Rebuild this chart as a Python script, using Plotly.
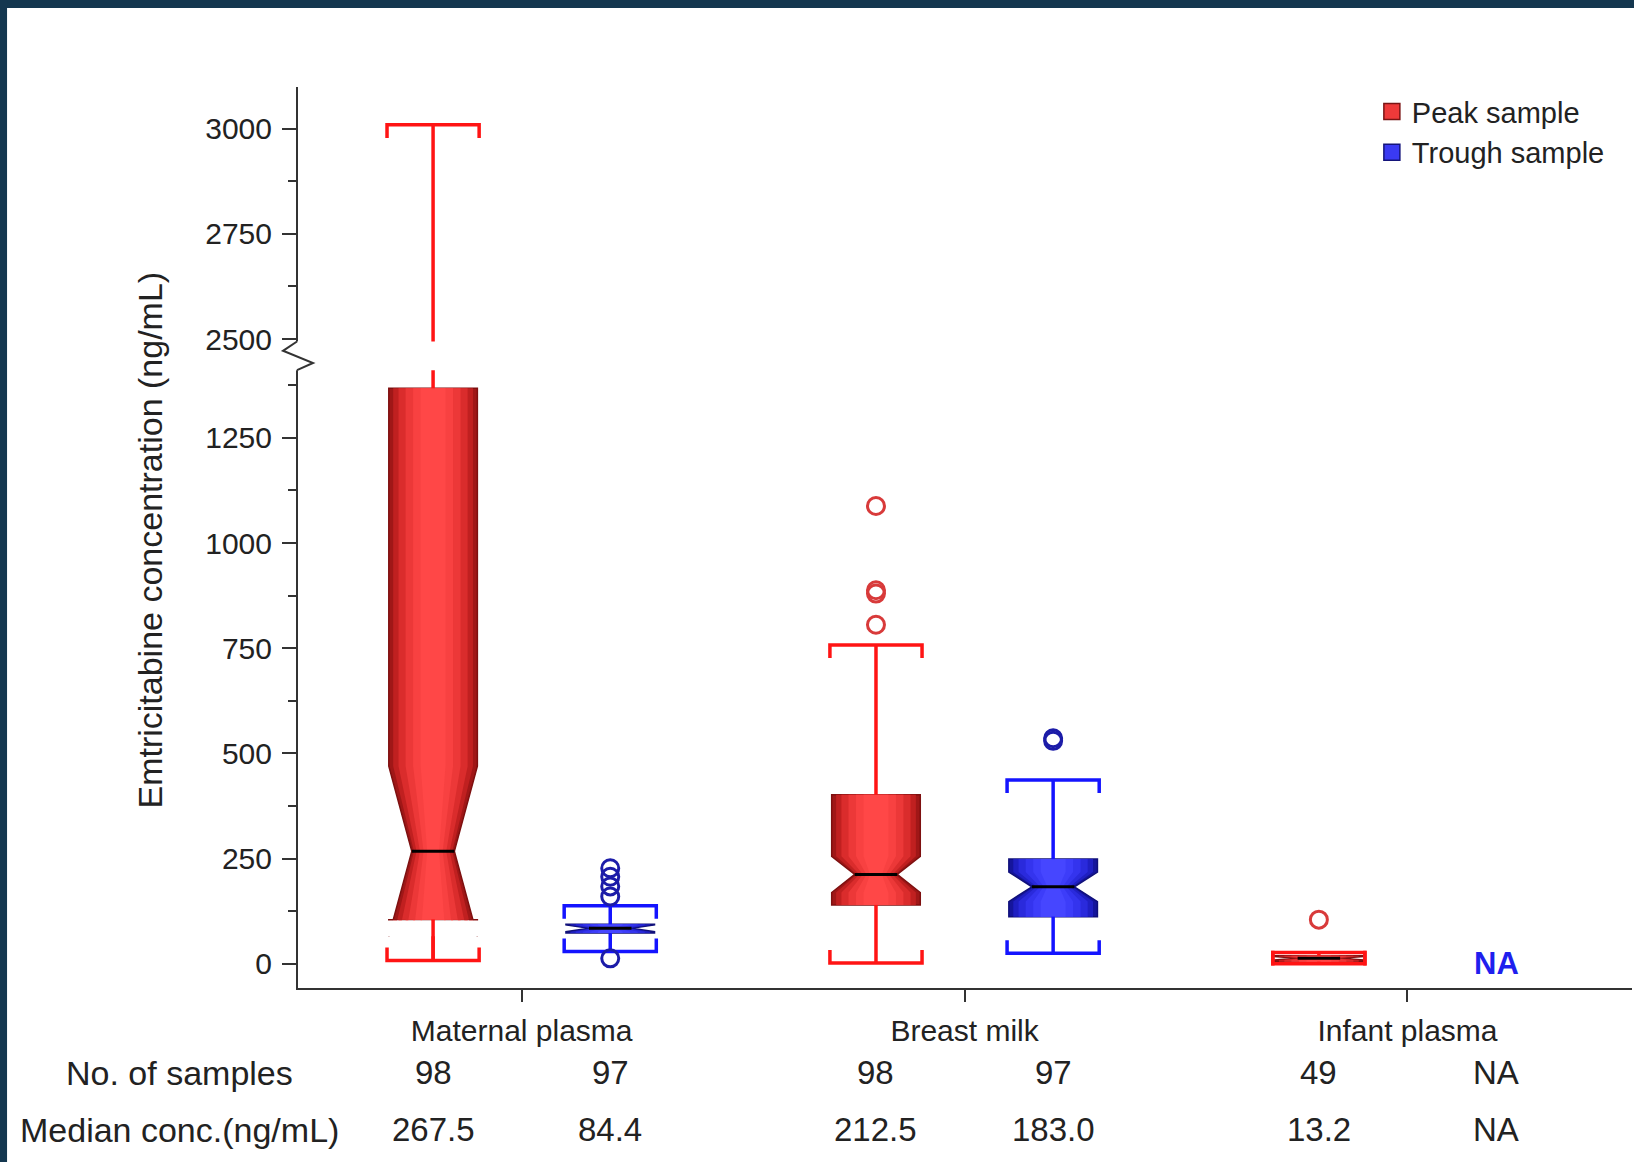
import plotly.graph_objects as go

# ---------------- data ----------------
categories = ["Maternal plasma", "Breast milk", "Infant plasma"]
cat_pos = [0, 1, 2]

# Peak sample (one box per category)
peak_lower = [8, 2, 0]
peak_q1 = [105, 140, 5]
peak_median = [267.5, 212.5, 13.2]
peak_q3 = [1368, 402, 19]
peak_upper = [3009, 758, 27]
peak_notch = [202, 43, 4]
peak_out_cat = [1, 1, 1, 1, 2]
peak_out_val = [1088, 888, 880, 806, 105]

# Trough sample (Infant plasma not available)
trough_cat = [0, 1]
trough_lower = [29, 25]
trough_q1 = [73, 112]
trough_median = [84.4, 183.0]
trough_q3 = [94, 249]
trough_upper = [138, 437]
trough_notch = [8, 35]
trough_out_cat = [0, 0, 0, 0, 0, 1, 1]
trough_out_val = [227, 207, 184, 160, 13, 536, 530]

n_peak = ["98", "98", "49"]
n_trough = ["97", "97", "NA"]
med_peak_txt = ["267.5", "212.5", "13.2"]
med_trough_txt = ["84.4", "183.0", "NA"]

ytick_major = [0, 250, 500, 750, 1000, 1250, 2500, 2750, 3000]
ytick_minor = [125, 375, 625, 875, 1125, 1375, 2625, 2875]

# ---------------- axis break ----------------
BREAK_START = 2000      # real values above this are shifted down
BREAK_OFFSET = 1015     # amount of shift for the upper segment
GAP_LO, GAP_HI = 1411, 1479   # display band of the break


def disp(v):
    return v - BREAK_OFFSET if v > BREAK_START else v


FONT = "Liberation Sans, Arial, sans-serif"
OFF = 0.2          # offset of peak/trough from category centre
BOXW = 0.2
NW = 0.26
CAPW = 0.104
CAPD = 31
WHISK_W = 3.5

RED_LAYERS = ["#a01717", "#c02020", "#da2c2c", "#ec3838", "#f84141", "#ff4747"]
BLUE_LAYERS = ["#15159c", "#1f1fc2", "#2a2adc", "#3434ee", "#3d3df9", "#4646ff"]
LAYER_W = [1.0, 0.9, 0.78, 0.62, 0.45, 0.28]

fig = go.Figure()
extra_shapes = []


def add_group(xs, lf, q1, med, q3, uf, notch, layers, outline, wcolor, ocolor,
              out_x, out_y):
    lf_d = [disp(v) for v in lf]
    uf_d = [disp(v) for v in uf]
    q3_d = [disp(v) for v in q3]
    for k, (c, f) in enumerate(zip(layers, LAYER_W)):
        fig.add_trace(go.Box(
            x=xs, q1=q1, median=med, q3=q3_d, lowerfence=lf_d, upperfence=uf_d,
            notched=True, notchspan=notch, notchwidth=NW, width=BOXW * f,
            fillcolor=c, line=dict(color=outline if k == 0 else c,
                                   width=1.5 if k == 0 else 0),
            whiskerwidth=0, boxpoints=False, showlegend=False, hoverinfo="skip"))
    # whiskers + bracket caps
    wx, wy = [], []
    for x, a, b, c_, d in zip(xs, lf_d, q1, q3_d, uf_d):
        wx += [x, x, None, x, x, None]
        wy += [b, a, None, c_, d, None]
        wx += [x - CAPW, x - CAPW, x + CAPW, x + CAPW, None]
        wy += [d - CAPD, d, d, d - CAPD, None]
        wx += [x - CAPW, x - CAPW, x + CAPW, x + CAPW, None]
        wy += [a + CAPD, a, a, a + CAPD, None]
    fig.add_trace(go.Scatter(x=wx, y=wy, mode="lines",
                             line=dict(color=wcolor, width=WHISK_W),
                             showlegend=False, hoverinfo="skip"))
    # notch reaching below the first quartile: that part is left blank
    for x, a, b, m, n in zip(xs, lf_d, q1, med, notch):
        if m - n < b:
            extra_shapes.append(dict(type="rect", xref="x", yref="y",
                                     x0=x - BOXW / 2 - 0.005, x1=x + BOXW / 2 + 0.005,
                                     y0=m - n, y1=b - 2, fillcolor="white",
                                     line=dict(width=0), layer="above"))
            extra_shapes.append(dict(type="line", xref="x", yref="y", x0=x, x1=x,
                                     y0=b, y1=a, line=dict(color=wcolor, width=WHISK_W),
                                     layer="above"))
    # median lines
    h = BOXW / 2 * (1 - 2 * NW)
    mx, my = [], []
    for x, m in zip(xs, med):
        mx += [x - h, x + h, None]
        my += [m, m, None]
    fig.add_trace(go.Scatter(x=mx, y=my, mode="lines",
                             line=dict(color="black", width=3),
                             showlegend=False, hoverinfo="skip"))
    # outliers
    fig.add_trace(go.Scatter(x=out_x, y=[disp(v) for v in out_y], mode="markers",
                             marker=dict(symbol="circle-open", size=17, color=ocolor,
                                         line=dict(width=3, color=ocolor)),
                             showlegend=False, hoverinfo="skip"))


peak_x = [p - OFF for p in cat_pos]
trough_x = [cat_pos[i] + OFF for i in trough_cat]

add_group(peak_x, peak_lower, peak_q1, peak_median, peak_q3, peak_upper, peak_notch,
          RED_LAYERS, "#7e1010", "#ff1414", "#d83a3a",
          [cat_pos[i] - OFF for i in peak_out_cat], peak_out_val)
add_group(trough_x, trough_lower, trough_q1, trough_median, trough_q3, trough_upper,
          trough_notch, BLUE_LAYERS, "#10107a", "#1414ff", "#1c1ca8",
          [cat_pos[i] + OFF for i in trough_out_cat], trough_out_val)

# legend entries
fig.add_trace(go.Scatter(x=[None], y=[None], mode="markers", name="Peak sample",
                         marker=dict(symbol="square", size=20, color="#ee3a3a",
                                     line=dict(color="#7a1414", width=1.5))))
fig.add_trace(go.Scatter(x=[None], y=[None], mode="markers", name="Trough sample",
                         marker=dict(symbol="square", size=20, color="#3a3af2",
                                     line=dict(color="#14147a", width=1.5))))

# ---------------- annotations ----------------
TXT = dict(family=FONT, size=33, color="#222")
LBL = dict(family=FONT, size=34, color="#222")
ann = []
# NA for missing infant trough
ann.append(dict(x=cat_pos[2] + OFF, y=0, xref="x", yref="y", text="<b>NA</b>",
                showarrow=False, font=dict(family=FONT, size=31, color="#1f1fee"),
                xanchor="center", yanchor="middle"))
# y title
ann.append(dict(x=-0.1107, y=0.497, xref="paper", yref="paper",
                text="Emtricitabine concentration (ng/mL)", textangle=-90,
                showarrow=False, xanchor="center", yanchor="middle",
                font=dict(family=FONT, size=34, color="#222")))
ROW1, ROW2 = -0.0943, -0.1576
ann.append(dict(x=-0.0885, y=ROW1, xref="paper", yref="paper", text="No. of samples",
                showarrow=False, xanchor="center", yanchor="middle", font=LBL))
ann.append(dict(x=-0.0885, y=ROW2, xref="paper", yref="paper", text="Median conc.(ng/mL)",
                showarrow=False, xanchor="center", yanchor="middle", font=LBL))
for p, a, b, c, d in zip(cat_pos, n_peak, n_trough, med_peak_txt, med_trough_txt):
    for x, t, y in [(p - OFF, a, ROW1), (p + OFF, b, ROW1), (p - OFF, c, ROW2), (p + OFF, d, ROW2)]:
        ann.append(dict(x=x, y=y, xref="x", yref="paper", text=t, showarrow=False,
                        xanchor="center", yanchor="middle", font=TXT))

# ---------------- shapes ----------------
shapes = [
    # dark frame strips (top and left)
    dict(type="rect", xref="paper", yref="paper", x0=-0.3, x1=1.1, y0=1.0877, y1=1.2,
         fillcolor="#14374f", line=dict(width=0), layer="below"),
    dict(type="rect", xref="paper", yref="paper", x0=-0.3, x1=-0.2181, y0=-0.3, y1=1.2,
         fillcolor="#14374f", line=dict(width=0), layer="below"),
] + extra_shapes + [
    # break band
    dict(type="rect", xref="paper", yref="y", x0=-0.004, x1=1.0, y0=GAP_LO, y1=GAP_HI,
         fillcolor="white", line=dict(width=0), layer="above"),
    # zigzag on the axis
    dict(type="path", xref="paper", yref="y", xsizemode="pixel", xanchor=0,
         path=f"M-1,{GAP_HI} L-15,1457 L15,1428 L-1,{GAP_LO}",
         line=dict(color="#333", width=2), layer="above"),
]

fig.update_layout(
    width=1634, height=1162,
    margin=dict(l=298, r=2, t=87, b=174),
    paper_bgcolor="white", plot_bgcolor="white",
    boxmode="overlay",
    font=dict(family=FONT, color="#222"),
    showlegend=True,
    legend=dict(x=0.805, y=1.001, xanchor="left", yanchor="top",
                font=dict(family=FONT, size=29, color="#222"),
                bgcolor="rgba(0,0,0,0)", tracegroupgap=0, itemwidth=30),
    annotations=ann, shapes=shapes,
    xaxis=dict(range=[-0.505, 2.507], tickvals=cat_pos, ticktext=categories,
               showline=True, linecolor="#333", linewidth=2, ticks="outside",
               ticklen=12, tickwidth=2, tickcolor="#333", showgrid=False,
               zeroline=False, tickfont=dict(family=FONT, size=30, color="#222"),
               ticklabelstandoff=3),
    yaxis=dict(range=[-57.5, 2084], tickvals=[disp(v) for v in ytick_major],
               ticktext=[str(v) for v in ytick_major],
               showline=True, linecolor="#333", linewidth=2, ticks="outside",
               ticklen=14, tickwidth=2, tickcolor="#333", showgrid=False,
               zeroline=False, tickfont=dict(family=FONT, size=30, color="#222"),
               ticklabelstandoff=4,
               minor=dict(tickvals=[disp(v) for v in ytick_minor], ticks="outside",
                          ticklen=8, tickwidth=2, tickcolor="#333", showgrid=False)),
)

fig.write_html("out.html", config={"displayModeBar": False},
               post_script="document.body.style.margin='0';document.body.style.overflow='hidden';")
